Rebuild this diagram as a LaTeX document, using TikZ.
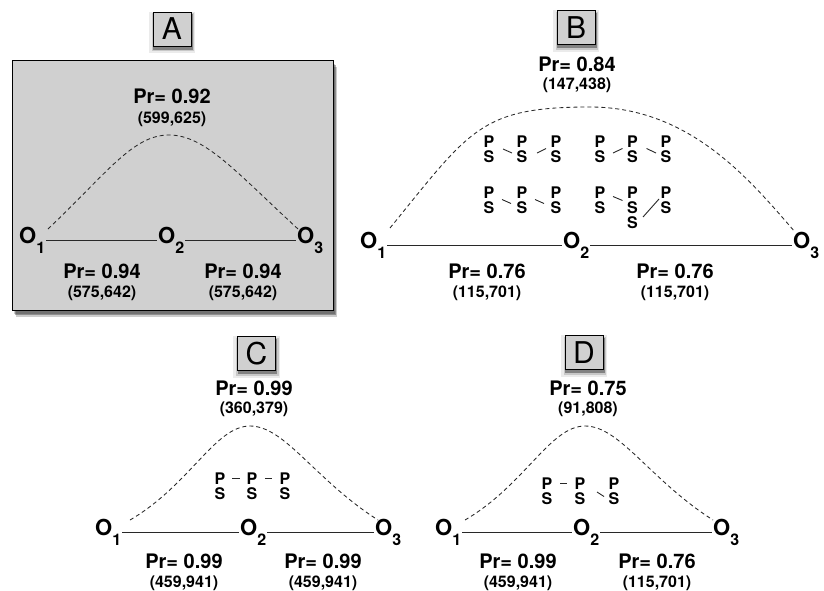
\documentclass[tikz,border=0pt]{standalone}
\usepackage{fontspec}
\setmainfont{TeX Gyre Heros}
\usetikzlibrary{shadows,calc}
\definecolor{boxgray}{RGB}{208,208,208}
\definecolor{linegray}{RGB}{40,40,40}
\newcommand\pscolumn[3]{%
  \node[psn] (#1p) at (#2,#3) {P};
  \node[psn] (#1s) at (#2,#3+15) {S};}
\newcommand\onodetext[1]{O\raisebox{-10pt}{\fontsize{16}{16}\selectfont #1}}
\begin{document}
\begin{tikzpicture}[x=1pt,y=-1pt,
  onode/.style={font=\fontsize{22}{22}\selectfont\bfseries, inner sep=1pt, anchor=west},
  prl/.style={font=\fontsize{20}{20}\selectfont\bfseries, inner sep=0pt, anchor=base},
  cnt/.style={font=\fontsize{16}{16}\selectfont\bfseries, inner sep=0pt, anchor=base},
  psn/.style={font=\fontsize{16}{16}\selectfont\bfseries, inner sep=0pt, anchor=base},
  edge/.style={draw=linegray, line width=1pt},
  dline/.style={draw=linegray, line width=0.85pt, dash pattern=on 4pt off 3pt},
  bond/.style={draw=linegray, line width=0.9pt},
  softshadow/.style={
    drop shadow={shadow xshift=0pt, shadow yshift=-3pt, shadow scale=1.22, opacity=0.08, fill=black},
    drop shadow={shadow xshift=1pt, shadow yshift=-3pt, shadow scale=1.12, opacity=0.15, fill=black},
    drop shadow={shadow xshift=1pt, shadow yshift=-3pt, shadow scale=1.04, opacity=0.35, fill=black}},
  lbl/.style={draw=black, fill=boxgray, line width=0.8pt, minimum width=38pt, minimum height=34pt,
    inner sep=0pt, font=\fontsize{30}{30}\selectfont, softshadow}
]
\useasboundingbox (0,0) rectangle (824,591);

% ---------------- Panel A ----------------
\path[draw=black, fill=boxgray, line width=0.8pt,
  drop shadow={shadow xshift=2pt, shadow yshift=-4pt, opacity=0.2, fill=black},
  drop shadow={shadow xshift=4pt, shadow yshift=-7pt, opacity=0.2, fill=black},
  drop shadow={shadow xshift=3pt, shadow yshift=-5pt, opacity=0.3, fill=black}]
  (12,60) rectangle (333,310);
\node[lbl] (labA) at (172,29) {A};

\node[onode] (a1) at (18,240) {\onodetext{1}};
\node[onode] (a2) at (157,240) {\onodetext{2}};
\node[onode] (a3) at (296,240) {\onodetext{3}};
\draw[edge] (a1.east) -- (a2.west);
\draw[edge] (a2.east) -- (a3.west);
\coordinate (a1c) at (48,229);
\coordinate (a3c) at (298,229);
\draw[dline] (a1c) .. controls (108,172) and (133,135) .. (169,135)
  .. controls (205,135) and (236,172) .. (a3c);
\node[prl] (atp) at (172,103) {Pr= 0.92};
\node[cnt] (atc) at (172,124) {(599,625)};
\node[prl] (alp) at (102,278) {Pr= 0.94};
\node[cnt] (alc) at (102,297) {(575,642)};
\node[prl] (arp) at (243,278) {Pr= 0.94};
\node[cnt] (arc) at (243,297) {(575,642)};

% ---------------- Panel B ----------------
\node[lbl] (labB) at (576,27.5) {B};
\node[onode] (b1) at (359,245) {\onodetext{1}};
\node[onode] (b2) at (562,245) {\onodetext{2}};
\node[onode] (b3) at (792,245) {\onodetext{3}};
\draw[edge] (b1.east) -- (b2.west);
\draw[edge] (b2.east) -- (b3.west);
\coordinate (b1c) at (390,228);
\coordinate (b3c) at (795,232);
\draw[dline] (b1c) .. controls (470,130) and (480,107) .. (590,107)
  .. controls (690,107) and (750,180) .. (b3c);
\node[prl] (btp) at (577,72) {Pr= 0.84};
\node[cnt] (btc) at (577,90) {(147,438)};
\node[prl] (blp) at (487,278) {Pr= 0.76};
\node[cnt] (blc) at (487,297) {(115,701)};
\node[prl] (brp) at (675,278) {Pr= 0.76};
\node[cnt] (brc) at (675,297) {(115,701)};

% P/S groups in B
\pscolumn{ba1}{489}{147}
\pscolumn{ba2}{522}{147}
\pscolumn{ba3}{556}{147}
\pscolumn{bb1}{600}{147}
\pscolumn{bb2}{632.5}{147}
\pscolumn{bb3}{666}{147}
\pscolumn{bc1}{489}{198}
\pscolumn{bc2}{522}{198}
\pscolumn{bc3}{556}{198}
\pscolumn{bd1}{600}{198}
\pscolumn{bd2}{632.5}{198}
\pscolumn{bd3}{666}{198}
\node[psn] (bd2x) at (632.5,228) {S};
\draw[bond] (503,149) -- (512,153);
\draw[bond] (537,153) -- (546,148.5);
\draw[bond] (613,153) -- (622.5,148.5);
\draw[bond] (646.5,148.5) -- (656,153);
\draw[bond] (502,199.5) -- (511,203.5);
\draw[bond] (535,199.5) -- (544,203.5);
\draw[bond] (613,196.5) -- (622.5,200.5);
\draw[bond] (643,217) -- (659,199);

% ---------------- Panel C ----------------
\node[lbl] (labC) at (256.5,353.5) {C};
\node[onode] (c1) at (94,532) {\onodetext{1}};
\node[onode] (c2) at (239,532) {\onodetext{2}};
\node[onode] (c3) at (374,532) {\onodetext{3}};
\draw[edge] (c1.east) -- (c2.west);
\draw[edge] (c2.east) -- (c3.west);
\coordinate (c1c) at (130,520);
\coordinate (c3c) at (378,520);
\draw[dline] (c1c) .. controls (190,485) and (215,426) .. (250,426)
  .. controls (285,426) and (315,480) .. (c3c);
\node[prl] (ctp) at (254,395) {Pr= 0.99};
\node[cnt] (ctc) at (254,413) {(360,379)};
\node[prl] (clp) at (184,568) {Pr= 0.99};
\node[cnt] (clc) at (184,587) {(459,941)};
\node[prl] (crp) at (323,568) {Pr= 0.99};
\node[cnt] (crc) at (323,587) {(459,941)};
\pscolumn{cp1}{220}{484}
\pscolumn{cp2}{252}{484}
\pscolumn{cp3}{285}{484}
\draw[bond] ($(cp1p.east)!.33!(cp2p.west)$) -- ($(cp1p.east)!.67!(cp2p.west)$);
\draw[bond] ($(cp2p.east)!.33!(cp3p.west)$) -- ($(cp2p.east)!.67!(cp3p.west)$);

% ---------------- Panel D ----------------
\node[lbl] (labD) at (584,352.5) {D};
\node[onode] (d1) at (434,532) {\onodetext{1}};
\node[onode] (d2) at (572,532) {\onodetext{2}};
\node[onode] (d3) at (712,532) {\onodetext{3}};
\draw[edge] (d1.east) -- (d2.west);
\draw[edge] (d2.east) -- (d3.west);
\coordinate (d1c) at (465,520);
\coordinate (d3c) at (713,520);
\draw[dline] (d1c) .. controls (525,485) and (550,426) .. (585,426)
  .. controls (620,426) and (650,480) .. (d3c);
\node[prl] (dtp) at (588,395) {Pr= 0.75};
\node[cnt] (dtc) at (588,413) {(91,808)};
\node[prl] (dlp) at (518,568) {Pr= 0.99};
\node[cnt] (dlc) at (518,587) {(459,941)};
\node[prl] (drp) at (657,568) {Pr= 0.76};
\node[cnt] (drc) at (657,587) {(115,701)};
\pscolumn{dp1}{547}{489}
\pscolumn{dp2}{580}{489}
\pscolumn{dp3}{614}{489}
\draw[bond] ($(dp1p.east)!.35!(dp2p.west)$) -- ($(dp1p.east)!.65!(dp2p.west)$);
\draw[bond] (597,492) -- (604,496.5);
\end{tikzpicture}
\end{document}
